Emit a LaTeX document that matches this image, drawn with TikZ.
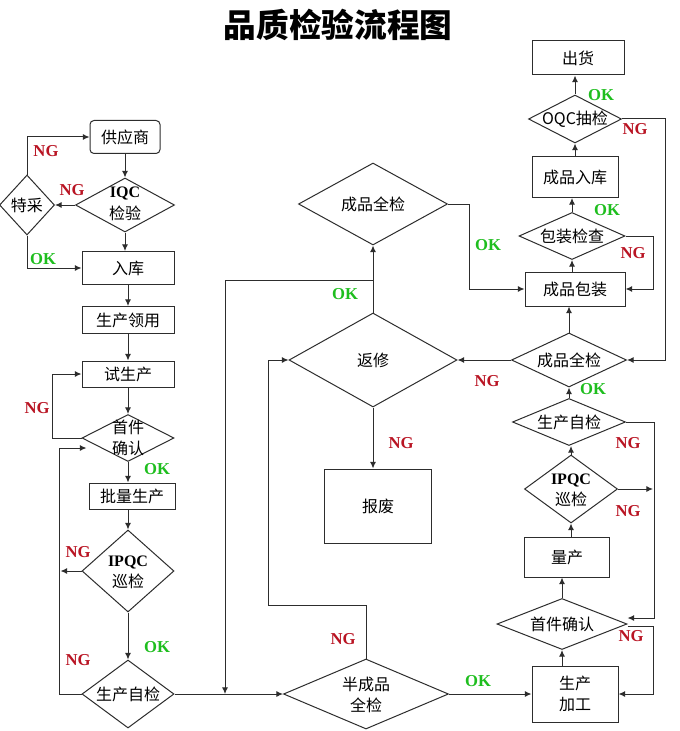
\documentclass[tikz,border=0pt]{standalone}
\usepackage{fontspec}
\setmainfont{Liberation Serif}
\newfontfamily\cjk{Noto Sans CJK SC}
\usetikzlibrary{shapes.geometric,arrows.meta,calc}
\definecolor{ngred}{RGB}{185,20,35}
\definecolor{okgreen}{RGB}{30,190,30}
\definecolor{lncol}{RGB}{45,45,45}
\begin{document}
\begin{tikzpicture}[x=0.75pt,y=-0.75pt,
  every node/.style={font=\cjk\fontsize{12}{16}\selectfont},
  box/.style 2 args={draw=lncol, line width=0.75pt, rectangle, inner sep=0pt, align=center,
    minimum width=#1*0.75pt, minimum height=#2*0.75pt},
  rbox/.style 2 args={box={#1}{#2}, rounded corners=3pt},
  dia/.style 2 args={draw=lncol, line width=0.75pt, diamond, inner sep=0pt,
    minimum width=#1*0.75pt, minimum height=#2*0.75pt},
  txt/.style={align=center, inner sep=0pt},
  arr/.style={draw=lncol, line width=0.75pt, -{Latex[length=5pt,width=4.5pt]}},
  ng/.style={font=\rmfamily\bfseries\fontsize{12.5}{14}\selectfont, text=ngred},
  ok/.style={font=\rmfamily\bfseries\fontsize{12.5}{14}\selectfont, text=okgreen}]
\fill[white] (0,0) rectangle (680,731);
\useasboundingbox (0,0) rectangle (680,731);

\node[font=\cjk\bfseries\fontsize{24.5}{28}\selectfont] (title) at (338,25) {品质检验流程图};

% left column
\node[rbox={70}{33}] (sup) at (125,137) {供应商};
\node[dia={99}{54}] (iqc) at (125,205) {};
\node[txt] (iqct) at (125,204) {{\rmfamily\bfseries IQC}\\检验};
\node[dia={55}{60}] (tc) at (27,205) {};
\node[txt] (tct) at (27,205) {特采};
\node[box={92}{33}] (ruku) at (128,268) {入库};
\node[box={92}{27}] (ly) at (128,320) {生产领用};
\node[box={92}{26}] (shi) at (128,374) {试生产};
\node[dia={92}{47}] (sj) at (128,438) {};
\node[txt] (sjt) at (128,438) {首件\\确认};
\node[box={86}{26}] (pl) at (132,496) {批量生产};
\node[dia={92}{82}] (ipqc) at (128,571) {};
\node[txt] (ipqct) at (128,572) {{\rmfamily\bfseries IPQC}\\巡检};
\node[dia={92}{68}] (zj) at (128,694) {};
\node[txt] (zjt) at (128,694) {生产自检};

% middle column
\node[dia={149}{82}] (cq) at (373,204) {};
\node[txt] (cqt) at (373,204) {成品全检};
\node[dia={168}{94}] (fx) at (373,360) {};
\node[txt] (fxt) at (373,360) {返修};
\node[box={107}{74}] (bf) at (378,506) {报废};
\node[dia={165}{70}] (bcp) at (366,694) {};
\node[txt] (bcpt) at (366,695) {半成品\\全检};

% right column
\node[box={92}{34}] (ch) at (578,58) {出货};
\node[dia={93}{48}] (oqc) at (575,119) {};
\node[txt] (oqct) at (575,119) {OQC抽检};
\node[box={86}{41}] (rk2) at (575,177) {成品入库};
\node[dia={106}{47}] (bzjc) at (572,236) {};
\node[txt] (bzjct) at (572,236) {包装检查};
\node[box={100}{34}] (bz) at (575,289) {成品包装};
\node[dia={115}{54}] (cq2) at (569,360) {};
\node[txt] (cq2t) at (569,360) {成品全检};
\node[dia={113}{47}] (zj2) at (569,422) {};
\node[txt] (zj2t) at (569,422) {生产自检};
\node[dia={93}{68}] (ipqc2) at (571,489) {};
\node[txt] (ipqc2t) at (571,490) {{\rmfamily\bfseries IPQC}\\巡检};
\node[box={85}{40}] (lc) at (567,557) {量产};
\node[dia={130}{51}] (sj2) at (562,624) {};
\node[txt] (sj2t) at (562,624) {首件确认};
\node[box={86}{56}] (jg) at (575,694) {生产\\加工};

% helper coordinates
\coordinate (j1) at (373,280);
\coordinate (j2) at (225,694);
\coordinate (c1) at (268,605);

% left connectors
\draw[arr] (sup.south) -- (sup.south |- iqc.north);
\draw[arr] (iqc.west) -- (tc.east);
\draw[arr] (tc.north) |- (sup.west);
\draw[arr] (tc.south) |- (ruku.west);
\draw[arr] (iqc.south) -- (iqc.south |- ruku.north);
\draw[arr] (ruku.south) -- (ly.north);
\draw[arr] (ly.south) -- (shi.north);
\draw[arr] (shi.south) -- (sj.north);
\draw[arr] (sj.west) -- ++(-29,0) |- (shi.west);
\draw[arr] (sj.south) -- (sj.south |- pl.north);
\draw[arr] (pl.south -| ipqc.north) -- (ipqc.north);
\draw[arr] (ipqc.west) -- ++(-21,0);
\draw[arr] (ipqc.south) -- (zj.north);
\draw[arr] (zj.west) -- ++(-22,0) |- ($(sj.west)+(5,10)$);
\draw[arr] (zj.east) -- (bcp.west);
\draw[arr] (j1) -| (j2);

% middle connectors
\draw[arr] (fx.north) -- (cq.south);
\draw[arr] (cq.east) -- ++(21,0) |- (bz.west);
\draw[arr] (cq2.west) -- (fx.east);
\draw[arr] (fx.south) -- (fx.south |- bf.north);
\draw[arr] (bcp.north) |- (c1) |- (fx.west);
\draw[arr] (bcp.east) -- (jg.west);

% right connectors
\draw[arr] (jg.north -| sj2.south) -- (sj2.south);
\draw[arr] (sj2.north) -- (sj2.north |- lc.south);
\draw[arr] (lc.north -| ipqc2.south) -- (ipqc2.south);
\draw[arr] (ipqc2.north) -- (ipqc2.north |- zj2.south);
\draw[arr] (zj2.north) -- (cq2.south);
\draw[arr] (cq2.north) -- (cq2.north |- bz.south);
\draw[arr] (bz.north -| bzjc.south) -- (bzjc.south);
\draw[arr] (bzjc.north) -- (bzjc.north |- rk2.south);
\draw[arr] (rk2.north -| oqc.south) -- (oqc.south);
\draw[arr] (oqc.north) -- (oqc.north |- ch.south);
\draw[arr] (oqc.east) -- ++(43,0) |- (cq2.east);
\draw[arr] (bzjc.east) -- ++(28,0) |- (bz.east);
\draw[arr] (zj2.east) -- ++(28,0) |- ([shift={(0,-6)}]sj2.east);
\draw[arr] (ipqc2.east) -- ++(35,0);
\draw[arr] ([shift={(0,2)}]sj2.east) -- ++(26,0) |- (jg.east);

% labels
\node[ng] (l1) at (72,190) {NG};
\node[ng] (l2) at (46,151) {NG};
\node[ok] (l3) at (43,259) {OK};
\node[ng] (l4) at (37,408) {NG};
\node[ok] (l5) at (157,469) {OK};
\node[ng] (l6) at (78,552) {NG};
\node[ok] (l7) at (157,647) {OK};
\node[ng] (l8) at (78,660) {NG};
\node[ok] (l9) at (345,294) {OK};
\node[ok] (l10) at (488,245) {OK};
\node[ng] (l11) at (401,443) {NG};
\node[ng] (l12) at (487,381) {NG};
\node[ng] (l13) at (343,639) {NG};
\node[ok] (l14) at (478,681) {OK};
\node[ok] (l15) at (601,95) {OK};
\node[ng] (l16) at (635,129) {NG};
\node[ok] (l17) at (607,210) {OK};
\node[ng] (l18) at (633,253) {NG};
\node[ok] (l19) at (593,389) {OK};
\node[ng] (l20) at (628,443) {NG};
\node[ng] (l21) at (628,511) {NG};
\node[ng] (l22) at (631,636) {NG};
\end{tikzpicture}
\end{document}
